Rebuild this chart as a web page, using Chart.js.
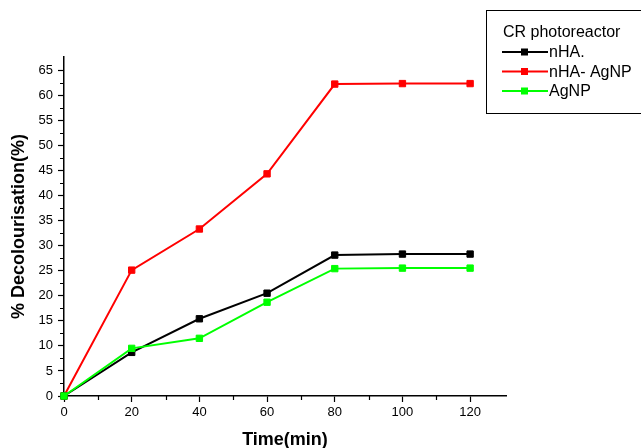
<!DOCTYPE html>
<html>
<head>
<meta charset="utf-8">
<script src="https://cdn.jsdelivr.net/npm/chart.js@4.4.1/dist/chart.umd.min.js"></script>
<style>
  html, body { margin: 0; padding: 0; background: #ffffff; }
  #wrap { width: 641px; height: 448px; }
</style>
</head>
<body>
<div id="wrap"><canvas id="c" width="641" height="448"></canvas></div>
<script>
const times = [0, 20, 40, 60, 80, 100, 120];
const nHA = [0, 8.7, 15.4, 20.5, 28.1, 28.3, 28.3];
const nHAAgNP = [0, 25.1, 33.3, 44.3, 62.2, 62.3, 62.3];
const AgNP = [0, 9.5, 11.5, 18.7, 25.4, 25.5, 25.5];
const seriesNames = ['nHA.', 'nHA- AgNP', 'AgNP'];
const seriesColors = ['#000000', '#ff0000', '#00ff00'];
const legendTitle = 'CR photoreactor';
const xTitle = 'Time(min)';
const yTitle = '% Decolourisation(%)';

const FONT = '"Liberation Sans", Arial, Helvetica, sans-serif';

function mk(i, data, order) {
  return {
    label: seriesNames[i],
    data: times.map((t, k) => ({x: t, y: data[k]})),
    borderColor: seriesColors[i],
    backgroundColor: seriesColors[i],
    borderWidth: 2,
    pointStyle: 'rect',
    pointRadius: 4.5,
    pointBorderWidth: 1,
    pointBackgroundColor: seriesColors[i],
    pointBorderColor: seriesColors[i],
    tension: 0,
    clip: false,
    order: order
  };
}

const minorTicks = {
  id: 'minorTicks',
  afterDraw(chart) {
    const ctx = chart.ctx;
    const xs = chart.scales.x, ys = chart.scales.y;
    ctx.save();
    ctx.strokeStyle = '#000';
    ctx.lineWidth = 1.2;
    ctx.beginPath();
    xs.ticks.forEach(t => {
      if (t.value % 20 !== 0) {
        const px = Math.round(xs.getPixelForValue(t.value)) + 0.5;
        ctx.moveTo(px, ys.bottom);
        ctx.lineTo(px, ys.bottom + 4);
      }
    });
    ys.ticks.forEach(t => {
      if (Math.abs(t.value % 5) > 1e-6) {
        const py = Math.round(ys.getPixelForValue(t.value)) + 0.5;
        ctx.moveTo(xs.left, py);
        ctx.lineTo(xs.left - 4, py);
      }
    });
    ctx.stroke();
    ctx.restore();
  }
};

const customLegend = {
  id: 'customLegend',
  afterDraw(chart) {
    const ctx = chart.ctx;
    ctx.save();
    ctx.strokeStyle = '#000';
    ctx.lineWidth = 1;
    ctx.strokeRect(486.5, 10.5, 170, 103);
    ctx.fillStyle = '#000';
    ctx.font = '16px ' + FONT;
    ctx.textBaseline = 'alphabetic';
    ctx.textAlign = 'left';
    ctx.fillText(legendTitle, 503, 37);
    const rows = [52, 71.5, 91];
    seriesNames.forEach((n, i) => {
      const y = rows[i];
      ctx.strokeStyle = seriesColors[i];
      ctx.lineWidth = 2;
      ctx.beginPath();
      ctx.moveTo(502, y);
      ctx.lineTo(548, y);
      ctx.stroke();
      ctx.fillStyle = seriesColors[i];
      ctx.fillRect(521, y - 3.5, 7, 7);
      ctx.fillStyle = '#000';
      ctx.textBaseline = 'middle';
      ctx.fillText(n, 549, y + 1);
    });
    ctx.restore();
  }
};

new Chart(document.getElementById('c'), {
  type: 'line',
  data: {
    datasets: [mk(1, nHAAgNP, 2), mk(0, nHA, 1), mk(2, AgNP, 0)]
  },
  options: {
    responsive: false,
    animation: false,
    layout: { padding: { top: 57, right: 135, left: 0, bottom: 0 } },
    plugins: { legend: { display: false }, tooltip: { enabled: false } },
    scales: {
      x: {
        type: 'linear',
        min: 0,
        max: 130.6,
        afterBuildTicks(scale) {
          scale.ticks = scale.ticks.filter(t => Math.abs(t.value % 10) < 1e-6);
        },
        afterFit(scale) { scale.height = 52; },
        ticks: {
          stepSize: 10,
          autoSkip: false,
          maxRotation: 0,
          padding: 3,
          color: '#000',
          font: { family: FONT, size: 13 },
          callback: v => (v % 20 === 0 ? String(v) : '')
        },
        grid: {
          display: true,
          drawOnChartArea: false,
          drawTicks: true,
          tickLength: 6,
          tickWidth: 1.2,
          tickColor: c => (c.tick && c.tick.value % 20 === 0 ? '#000' : 'rgba(0,0,0,0)')
        },
        border: { display: true, color: '#000', width: 1.5 },
        title: {
          display: true,
          text: xTitle,
          color: '#000',
          font: { family: FONT, size: 18, weight: 'bold' },
          padding: { top: 0, bottom: -3 }
        }
      },
      y: {
        type: 'linear',
        min: 0,
        max: 67.6,
        afterBuildTicks(scale) {
          scale.ticks = scale.ticks.filter(t => Math.abs(t.value % 2.5) < 1e-6);
        },
        afterFit(scale) { scale.width = 64; },
        ticks: {
          stepSize: 2.5,
          autoSkip: false,
          padding: 5,
          color: '#000',
          font: { family: FONT, size: 13 },
          callback: v => (Math.abs(v % 5) < 1e-6 ? String(v) : '')
        },
        grid: {
          display: true,
          drawOnChartArea: false,
          drawTicks: true,
          tickLength: 6,
          tickWidth: 1.2,
          tickColor: c => (c.tick && Math.abs(c.tick.value % 5) < 1e-6 ? '#000' : 'rgba(0,0,0,0)')
        },
        border: { display: true, color: '#000', width: 1.5 },
        title: {
          display: true,
          text: yTitle,
          color: '#000',
          font: { family: FONT, size: 18, weight: 'bold' },
          padding: { top: 8, bottom: 0 }
        }
      }
    }
  },
  plugins: [minorTicks, customLegend]
});
</script>
</body>
</html>
